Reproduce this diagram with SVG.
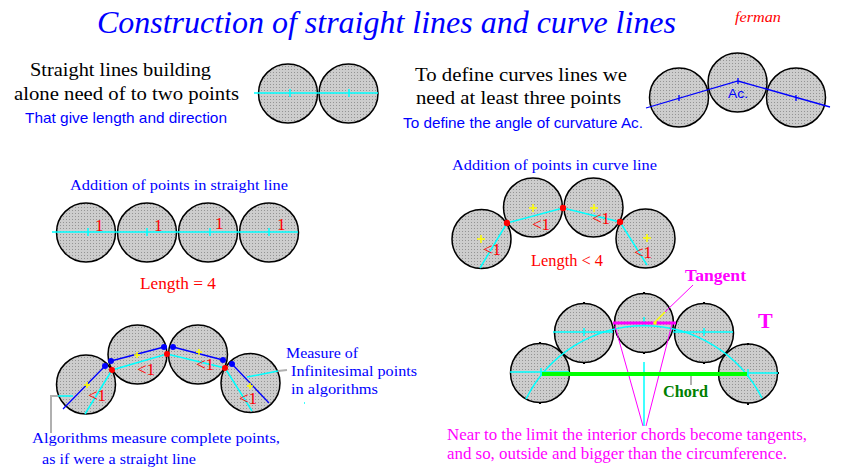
<svg xmlns="http://www.w3.org/2000/svg" width="844" height="473" viewBox="0 0 844 473">
<defs>
<pattern id="dots" width="3" height="3" patternUnits="userSpaceOnUse"><rect width="3" height="3" fill="#cdcdcd"/><rect width="1" height="1" fill="#949494"/></pattern>
<style>
.c{fill:url(#dots);stroke:#000;stroke-width:1.5}
.cy{stroke:#00ffff;stroke-width:1.5;fill:none}
.bl{stroke:#0000ff;stroke-width:1.3;fill:none}
.mg{stroke:#ff00ff;stroke-width:1;fill:none}
.ye{stroke:#ffff00;stroke-width:1.5;fill:none}
.gr{stroke:#b0b0b0;stroke-width:2;fill:none}
.tk{stroke:#000;stroke-width:2}
.rd{fill:#ff0000}
.bd{fill:#0000ff}
text{font-family:"Liberation Serif","DejaVu Serif",serif}
.t1{font-size:19px;fill:#000}
.tb{font-size:15px;fill:#0000ff}
.tr{font-size:17px;fill:#ff0000}
.tm{font-size:16px;fill:#ff00ff}
.sans{font-family:"Liberation Sans","DejaVu Sans",sans-serif}
</style>
</defs>
<rect width="844" height="473" fill="#fff"/>

<g id="title">
<text x="97" y="33" font-size="32" font-style="italic" fill="#0000ff" textLength="579" lengthAdjust="spacingAndGlyphs">Construction of straight lines and curve lines</text>
<text x="735" y="22" font-size="14" font-style="italic" fill="#ff0000" textLength="46" lengthAdjust="spacingAndGlyphs">ferman</text>
</g>

<g id="intro-straight">
<text class="t1" x="30" y="76" textLength="181" lengthAdjust="spacingAndGlyphs">Straight lines building</text>
<text class="t1" x="14" y="100" textLength="225" lengthAdjust="spacingAndGlyphs">alone need of to two points</text>
<text class="tb sans" x="25" y="123" textLength="202" lengthAdjust="spacingAndGlyphs">That give length and direction</text>
</g>
<g id="intro-curve">
<text class="t1" x="415" y="81" textLength="212" lengthAdjust="spacingAndGlyphs">To define curves lines we</text>
<text class="t1" x="416" y="104" textLength="205" lengthAdjust="spacingAndGlyphs">need at least three points</text>
<text class="tb sans" x="403" y="128" textLength="240" lengthAdjust="spacingAndGlyphs">To define the angle of curvature Ac.</text>
</g>

<!-- top-left pair -->
<g id="p2a"><circle class="c" cx="288" cy="93.5" r="29.5"/></g>
<g id="p2b"><circle class="c" cx="348.5" cy="93.5" r="29.5"/></g>

<!-- top-right triple -->
<g id="p3a"><circle class="c" cx="679" cy="97.5" r="29.5"/></g>
<g id="p3b"><circle class="c" cx="737.5" cy="82.5" r="29.5"/><text class="sans" x="728" y="98" font-size="13" fill="#0000ff" textLength="20" lengthAdjust="spacingAndGlyphs">Ac.</text></g>
<g id="p3c"><circle class="c" cx="796" cy="97.5" r="29.5"/></g>

<!-- row 2 left -->
<g id="s-label"><text class="tb" x="70" y="190" textLength="218" lengthAdjust="spacingAndGlyphs">Addition of points in straight line</text></g>
<g id="s1"><circle class="c" cx="86" cy="232.5" r="29.5"/></g>
<g id="s2"><circle class="c" cx="147" cy="232.5" r="29.5"/></g>
<g id="s3"><circle class="c" cx="208" cy="232.5" r="29.5"/></g>
<g id="s4"><circle class="c" cx="269" cy="232.5" r="29.5"/></g>
<g id="s-length"><text class="tr" x="140" y="289" font-size="16" textLength="76" lengthAdjust="spacingAndGlyphs">Length  = 4</text></g>

<!-- row 2 right -->
<g id="c-label"><text class="tb" x="452" y="170" textLength="205" lengthAdjust="spacingAndGlyphs">Addition of points in curve line</text></g>
<g id="k1"><circle class="c" cx="481.5" cy="239" r="29.5"/></g>
<g id="k2"><circle class="c" cx="533" cy="207.5" r="29.5"/></g>
<g id="k3"><circle class="c" cx="593.5" cy="207.5" r="29.5"/></g>
<g id="k4"><circle class="c" cx="645.5" cy="238.5" r="29.5"/></g>
<g id="c-length"><text class="tr" x="531" y="266" font-size="16" textLength="72" lengthAdjust="spacingAndGlyphs">Length &lt; 4</text></g>

<!-- bottom-left -->
<g id="a1"><circle class="c" cx="86" cy="384.5" r="29.5"/></g>
<g id="a2"><circle class="c" cx="137.5" cy="354.5" r="29.5"/></g>
<g id="a3"><circle class="c" cx="198" cy="354.5" r="29.5"/></g>
<g id="a4"><circle class="c" cx="250.5" cy="383" r="29.5"/></g>
<g id="a-measure">
<text class="tb" x="286" y="358" textLength="72" lengthAdjust="spacingAndGlyphs">Measure of</text>
<text class="tb" x="291" y="376" textLength="126" lengthAdjust="spacingAndGlyphs">Infinitesimal points</text>
<text class="tb" x="291" y="394" textLength="87" lengthAdjust="spacingAndGlyphs">in algorithms</text>
</g>
<g id="a-algo">
<text class="tb" x="32" y="443" textLength="248" lengthAdjust="spacingAndGlyphs">Algorithms measure complete points,</text>
<text class="tb" x="42" y="464" textLength="154" lengthAdjust="spacingAndGlyphs">as if were a straight line</text>
</g>

<!-- bottom-right -->
<g id="b1"><circle class="c" cx="540" cy="373" r="29.5"/></g>
<g id="b2"><circle class="c" cx="584" cy="333" r="29.5"/></g>
<g id="b3"><circle class="c" cx="644" cy="323" r="29.5"/></g>
<g id="b4"><circle class="c" cx="704" cy="333" r="29.5"/></g>
<g id="b5"><circle class="c" cx="748" cy="373.5" r="29.5"/></g>
<g id="b-labels">
<text x="685" y="281" font-size="16" font-weight="bold" fill="#ff00ff" textLength="61" lengthAdjust="spacingAndGlyphs">Tangent</text>
<text x="758" y="328" font-size="22" font-weight="bold" fill="#ff00ff">T</text>
<text x="663" y="397" font-size="17" font-weight="bold" fill="#008000" textLength="45" lengthAdjust="spacingAndGlyphs">Chord</text>
<text class="tm" x="447" y="440" textLength="360" lengthAdjust="spacingAndGlyphs">Near to the limit the interior chords become tangents,</text>
<text class="tm" x="447" y="459" textLength="340" lengthAdjust="spacingAndGlyphs">and so, outside and bigger than the circumference.</text>
</g>

<g id="connectors">
<!-- top-left pair -->
<path class="cy" d="M254 93H378M290 89V97M349 89V97"/>
<!-- top-right -->
<path class="bl" d="M646 108L738 81L830 107M679 95V101M796 95V101M738 78V84"/>
<!-- row2 left -->
<path class="cy" d="M52 232H298M88 228V236M147 228V236M210 228V236M269 228V236"/>
<!-- row2 right -->
<path class="cy" d="M480 268L507 223L563 208L620 222L647 265"/>
<path class="ye" d="M477 239h8M481 235v8M529 208h8M533 204v8M590 208h8M594 204v8M643 238h8M647 234v8"/>
<circle class="rd" cx="507" cy="223" r="3.2"/><circle class="rd" cx="563" cy="208" r="3.2"/><circle class="rd" cx="620" cy="222" r="3.2"/>
<!-- bottom-left -->
<path class="cy" d="M85 414L112 370L167 354L225 368L252 411"/>
<path class="bl" d="M63 409L105 366M111 361L164 347M173 347L223 360M232 364L269 403"/>
<path class="ye" d="M84 385h6M87 382v6M134 355h6M137 352v6M196 352h6M199 349v6M247 386h6M250 383v6" stroke-width="1"/>
<circle class="bd" cx="105" cy="366" r="3"/><circle class="bd" cx="111" cy="361" r="3"/><circle class="bd" cx="164" cy="347" r="3"/><circle class="bd" cx="173" cy="347" r="3"/><circle class="bd" cx="223" cy="360" r="3"/><circle class="bd" cx="232" cy="364" r="3"/>
<circle class="rd" cx="112" cy="370" r="3"/><circle class="rd" cx="167" cy="354" r="3"/><circle class="rd" cx="225" cy="368" r="3"/>
<path class="cy" d="M247 377L278 371M58 396H73M304 403h1"/>
<path class="gr" d="M278 371L287 370M58 396H51V433"/>
<!-- bottom-right -->
<path class="tk" d="M540 342v2M540 402v2M584 302v2M584 362v2M644 292v2M644 352v2M704 302v2M704 362v2M748 343v2M748 403v2M510 372h1M778 373h1"/>
<path class="cy" d="M510 372H569M553 332H613M673 332H733M718 373H778M541 368V376M584 328V336M644 317V325M704 328V336M748 369V377"/>
<path class="cy" d="M526 399A132 132 0 0 1 762 398"/>
<path class="cy" d="M644 362V426"/>
<path class="mg" d="M615 326L643 426M672 324L646 426"/>
<path d="M613 323H676" stroke="#ff00ff" stroke-width="3"/>
<path class="mg" d="M693 285L665 312"/>
<path class="ye" d="M665 312L655 322" stroke-width="1"/>
<circle cx="655" cy="323" r="1.8" fill="#ffff00"/>
<path d="M542 374H747" stroke="#00ff00" stroke-width="4"/>
<path class="gr" d="M691 376V385" stroke-width="1"/>
</g>

<g id="numbers">
<text class="tr" x="95" y="231" font-size="18">1</text>
<text class="tr" x="154" y="231" font-size="18">1</text>
<text class="tr" x="215" y="229" font-size="18">1</text>
<text class="tr" x="277" y="230" font-size="18">1</text>
<text class="tr" x="483" y="255">&lt;1</text>
<text class="tr" x="532" y="230">&lt;1</text>
<text class="tr" x="592" y="224">&lt;1</text>
<text class="tr" x="634" y="258">&lt;1</text>
<text class="tr" x="88" y="401">&lt;1</text>
<text class="tr" x="137" y="375">&lt;1</text>
<text class="tr" x="196" y="370">&lt;1</text>
<text class="tr" x="239" y="404">&lt;1</text>
</g>
</svg>
